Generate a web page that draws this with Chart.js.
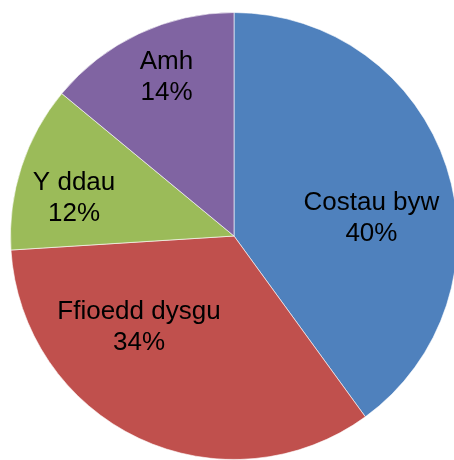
<!DOCTYPE html>
<html>
<head>
<meta charset="utf-8">
<script src="https://cdn.jsdelivr.net/npm/chart.js@4/dist/chart.umd.min.js"></script>
<style>
    html, body { margin: 0; padding: 0; background: #fff; overflow: hidden; }
    canvas { display: block; }
</style>
</head>
<body>
<canvas id="pie" width="468" height="460"></canvas>
<script>
var labels = ['Costau byw', 'Ffioedd dysgu', 'Y ddau', 'Amh']
var values = [40, 34, 12, 14]
var colours = ['#4F81BD', '#C0504D', '#9BBB59', '#8064A2']

// where Excel put each label: angle shift from the slice middle (deg) and fraction of the radius
var labelPlace = [
    { shift: 10.6, frac: 0.62 },
    { shift: 20.9, frac: 0.59 },
    { shift: -4.8, frac: 0.735 },
    { shift: 2.1, frac: 0.77 }
]

var sliceLabels = {
    id: 'sliceLabels',
    afterDatasetsDraw(chart) {
        var ctx = chart.ctx
        var meta = chart.getDatasetMeta(0)
        var total = values.reduce((a, b) => a + b, 0)
        ctx.save()
        ctx.fillStyle = '#000'
        ctx.font = '26px "Liberation Sans", Arial, sans-serif'
        ctx.textAlign = 'center'
        ctx.textBaseline = 'middle'
        meta.data.forEach((arc, i) => {
            var p = arc.getProps(['x', 'y', 'startAngle', 'endAngle', 'outerRadius'], true)
            var mid = (p.startAngle + p.endAngle) / 2 + labelPlace[i].shift * Math.PI / 180
            var r = p.outerRadius * labelPlace[i].frac
            var cx = p.x + Math.cos(mid) * r
            var cy = p.y + Math.sin(mid) * r
            var pct = Math.round(values[i] / total * 100) + '%'
            ctx.fillText(labels[i], cx, cy - 15.5)
            ctx.fillText(pct, cx, cy + 15.5)
        })
        ctx.restore()
    }
}

var ctx = document.getElementById('pie').getContext('2d')
var myChart = new Chart(ctx, {
    type: 'pie',
    data: {
        labels: labels,
        datasets: [{
            data: values,
            backgroundColor: colours,
            borderColor: 'rgba(255,255,255,0.6)',
            borderWidth: 1
        }]
    },
    options: {
        responsive: false,
        animation: false,
        layout: { padding: { top: 12, bottom: 0, left: 0, right: 0 } },
        plugins: {
            legend: { display: false },
            tooltip: { enabled: false }
        }
    },
    plugins: [sliceLabels]
})
</script>
</body>
</html>
